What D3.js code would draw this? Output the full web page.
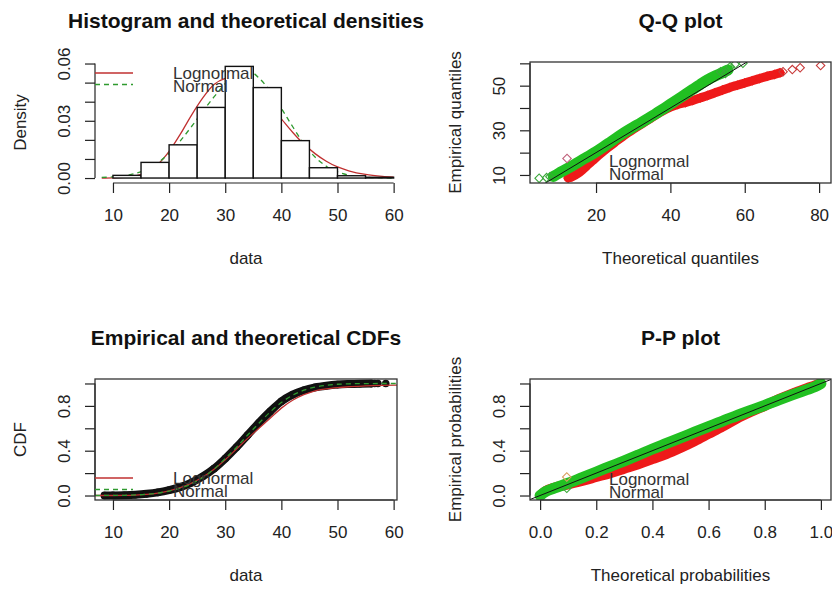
<!DOCTYPE html>
<html>
<head>
<meta charset="utf-8">
<script src="https://cdn.jsdelivr.net/npm/d3@7"></script>
<style>
body { margin: 0; background: #fff; }
svg { font-family: "Liberation Sans", Arial, sans-serif; }
.axis text { font-family: "Liberation Sans", Arial, sans-serif; font-size: 17px; fill: #222; }
.axis line { stroke: #222; stroke-width: 1.2; }
.lab { font-size: 17px; fill: #222; }
.title { font-size: 21px; font-weight: bold; fill: #111; }
.leg { font-size: 17px; fill: #333; }
</style>
</head>
<body>
<svg id="chart" width="832" height="590"></svg>
<script>
// ---- histogram + densities ----
const histBreaks = [10, 15, 20, 25, 30, 35, 40, 45, 50, 55, 60];
const histDensity = [0.0014, 0.0082, 0.0174, 0.037, 0.0585, 0.0474, 0.0196, 0.0054, 0.0012, 0.0004];
const densX = [8, 10, 12, 14, 16, 18, 20, 22, 24, 26, 28, 30, 31, 32, 33, 34, 36, 38, 40, 42, 44, 46, 48, 50, 52, 55, 58, 60];
const lnormDens = [0, 0.0001, 0.0004, 0.0012, 0.003, 0.0072, 0.014, 0.023, 0.033, 0.042, 0.049, 0.0522, 0.0528, 0.0525, 0.0515, 0.0497, 0.0448, 0.038, 0.031, 0.024, 0.0178, 0.0128, 0.0088, 0.0058, 0.0038, 0.0019, 0.0009, 0.0005];
const normDens = [0.0003, 0.0006, 0.0012, 0.0024, 0.0045, 0.008, 0.013, 0.0195, 0.027, 0.035, 0.0425, 0.0495, 0.0525, 0.0548, 0.0562, 0.0563, 0.0525, 0.0455, 0.0365, 0.027, 0.018, 0.011, 0.0062, 0.0032, 0.0015, 0.0005, 0.0001, 0];

// ---- Q-Q plot ----
const qqNormX = [8.5, 10, 12, 14, 16, 18, 20, 22, 24, 26, 28, 30, 32, 34, 36, 38, 40, 42, 44, 46, 48, 50, 52, 54, 55.5];
const qqNormY = [9.3, 10.8, 12.6, 14.5, 16.5, 18.4, 20.4, 22.6, 24.9, 27.2, 29.4, 31.4, 33.3, 35.3, 37.4, 39.5, 41.7, 43.9, 46.1, 48.3, 50.5, 52.6, 54.3, 55.8, 57];
const qqNormTailX = [4.7, 6.7, 7.6, 53.5, 54.8, 56.1, 57.4, 59.5];
const qqNormTailY = [8.5, 8.8, 9.2, 56.2, 55.5, 58.5, 59.6, 60];
const qqLnormX = [12.5, 13.5, 15, 16.5, 18, 19.5, 21, 23, 25, 28, 31, 34, 37, 40, 42, 44, 46, 48, 50, 52, 54, 56, 58, 60, 62, 64, 66, 68, 69.5];
const qqLnormY = [8.6, 9.2, 10.5, 12.5, 14.8, 17, 19.2, 22, 24.5, 28.2, 31.5, 34.6, 37.8, 40.4, 41.6, 42.4, 43.4, 44.5, 45.6, 46.8, 48, 49.2, 50.2, 51.2, 52.2, 53.2, 54.2, 55, 55.8];
const qqLnormTailX = [70.3, 72.8, 74.9, 80.4];
const qqLnormTailY = [56.2, 57.2, 58, 59];
const qqOddX = [12.2], qqOddY = [17.4];

// ---- CDFs ----
const cdfX = [8.5, 10, 12, 14, 16, 18, 20, 22, 24, 26, 28, 30, 32, 34, 36, 38, 40, 42, 44, 46, 48, 50, 52, 54, 56];
const empCdf = [0, 0.001, 0.003, 0.007, 0.015, 0.028, 0.048, 0.075, 0.115, 0.17, 0.24, 0.33, 0.43, 0.54, 0.65, 0.75, 0.84, 0.9, 0.94, 0.965, 0.98, 0.99, 0.995, 0.998, 0.999];
const cdfTailX = [56.6, 57.2, 58.6];
const cdfTailY = [1, 1, 1];
const cdfLineX = [6.8, 10, 12, 14, 16, 18, 20, 22, 24, 26, 28, 30, 32, 34, 36, 38, 40, 42, 44, 46, 48, 50, 52, 55, 58, 60.6];
const lnormCdf = [0, 0.0003, 0.0012, 0.004, 0.01, 0.022, 0.042, 0.07, 0.11, 0.165, 0.235, 0.32, 0.415, 0.51, 0.6, 0.69, 0.78, 0.85, 0.9, 0.935, 0.952, 0.963, 0.971, 0.978, 0.983, 0.986];
const normCdf = [0, 0.001, 0.002, 0.005, 0.011, 0.022, 0.04, 0.065, 0.105, 0.16, 0.235, 0.33, 0.43, 0.54, 0.645, 0.745, 0.83, 0.895, 0.94, 0.968, 0.984, 0.993, 0.997, 0.999, 1, 1];

// ---- P-P plot ----
const ppX = [0, 0.02, 0.05, 0.1, 0.15, 0.2, 0.25, 0.3, 0.35, 0.4, 0.45, 0.5, 0.55, 0.6, 0.65, 0.7, 0.75, 0.8, 0.85, 0.9, 0.95, 0.98, 1];
const ppNormY = [0, 0.035, 0.065, 0.11, 0.16, 0.21, 0.26, 0.31, 0.362, 0.415, 0.465, 0.515, 0.565, 0.615, 0.665, 0.712, 0.76, 0.805, 0.853, 0.9, 0.945, 0.972, 1];
const ppLnormY = [0, 0.04, 0.07, 0.1, 0.13, 0.165, 0.2, 0.24, 0.28, 0.325, 0.37, 0.425, 0.485, 0.55, 0.615, 0.685, 0.745, 0.8, 0.86, 0.912, 0.958, 0.985, 1];
const ppOddX = [0.095], ppOddY = [0.165];
const ppNormTailX = [0.095], ppNormTailY = [0.065];

const legendNames = ['Lognormal', 'Normal'];
const RED = '#ee1a1a', GREEN = '#22c022';
const LINE_RED = '#c03030', LINE_GREEN = '#2f9a2f';

const svg = d3.select('#chart');
const zip = (xs, ys) => xs.map((x, i) => [x, ys[i]]);

function panel(o) {
    const p = {};
    p.x = d3.scaleLinear().domain(o.xDomain).range([o.left, o.right]);
    p.y = d3.scaleLinear().domain(o.yDomain).range([o.bottom, o.top]);
    p.g = svg.append('g');
    svg.append('clipPath').attr('id', 'clip-' + o.name)
        .append('rect').attr('x', o.left).attr('y', o.top)
        .attr('width', o.right - o.left).attr('height', o.bottom - o.top);
    p.plot = p.g.append('g').attr('clip-path', `url(#clip-${o.name})`);

    // x axis
    const xg = p.g.append('g').attr('class', 'axis').attr('transform', `translate(0,${o.bottom})`)
        .call(d3.axisBottom(p.x).tickValues(o.xTicks).tickSize(10).tickFormat(o.xFormat));
    xg.select('.domain').remove();
    xg.append('line').attr('x1', p.x(o.xTicks[0])).attr('x2', p.x(o.xTicks[o.xTicks.length - 1]));
    xg.selectAll('text').attr('y', 38).attr('dy', null);

    // y axis, labels rotated like R
    const yg = p.g.append('g').attr('class', 'axis').attr('transform', `translate(${o.left},0)`)
        .call(d3.axisLeft(p.y).tickValues(o.yTicks).tickSize(10)
            .tickFormat((d, i) => i % o.yEvery === 0 ? o.yFormat(d) : ''));
    yg.select('.domain').remove();
    yg.append('line').attr('y1', p.y(o.yTicks[0])).attr('y2', p.y(o.yTicks[o.yTicks.length - 1]));
    yg.selectAll('text').attr('x', 0).attr('dy', null)
        .attr('transform', 'translate(-25,0) rotate(-90)').attr('text-anchor', 'middle');

    if (o.box) {
        p.g.append('rect').attr('x', o.left).attr('y', o.top)
            .attr('width', o.right - o.left).attr('height', o.bottom - o.top)
            .attr('fill', 'none').attr('stroke', '#333').attr('stroke-width', 1.3);
    }
    const cx = (o.left + o.right) / 2;
    p.g.append('text').attr('class', 'title').attr('x', cx).attr('y', o.top - 34)
        .attr('text-anchor', 'middle').text(o.title);
    p.g.append('text').attr('class', 'lab').attr('x', cx).attr('y', o.bottom + 81)
        .attr('text-anchor', 'middle').text(o.xLabel);
    p.g.append('text').attr('class', 'lab')
        .attr('transform', `translate(${o.left - 69},${(o.top + o.bottom) / 2}) rotate(-90)`)
        .attr('text-anchor', 'middle').text(o.yLabel);
    return p;
}

function legend(p, x0, y0, withLines) {
    if (withLines) {
        p.g.append('line').attr('x1', x0).attr('x2', x0 + 38).attr('y1', y0).attr('y2', y0)
            .attr('stroke', LINE_RED).attr('stroke-width', 1.3);
        p.g.append('line').attr('x1', x0).attr('x2', x0 + 38).attr('y1', y0 + 11.5).attr('y2', y0 + 11.5)
            .attr('stroke', LINE_GREEN).attr('stroke-width', 1.3).attr('stroke-dasharray', '5,4');
    }
    legendNames.forEach((n, i) => {
        p.g.append('text').attr('class', 'leg').attr('x', x0 + 78).attr('y', y0 + 6 + i * 12.5).text(n);
    });
}

const diamond = d3.symbol().type(d3.symbolSquare).size(36);
function band(p, pts, color, width) {
    p.plot.append('path').datum(pts)
        .attr('d', d3.line().x(d => p.x(d[0])).y(d => p.y(d[1])).curve(d3.curveMonotoneX))
        .attr('fill', 'none').attr('stroke', color).attr('stroke-width', width)
        .attr('stroke-linecap', 'round').attr('stroke-linejoin', 'round');
}
function diamonds(p, pts, color) {
    p.plot.append('g').selectAll('path').data(pts).join('path')
        .attr('d', diamond)
        .attr('transform', d => `translate(${p.x(d[0])},${p.y(d[1])}) rotate(45)`)
        .attr('fill', 'none').attr('stroke', color).attr('stroke-width', 1.1);
}
function curve(p, pts, color, dash) {
    p.plot.append('path').datum(pts)
        .attr('d', d3.line().x(d => p.x(d[0])).y(d => p.y(d[1])).curve(d3.curveMonotoneX))
        .attr('fill', 'none').attr('stroke', color).attr('stroke-width', 1.3)
        .attr('stroke-dasharray', dash || null);
}

const fmt1 = d3.format('.1f');

// ---------- panel 1: histogram ----------
const h = panel({
    name: 'hist', left: 95, right: 397, top: 62, bottom: 183,
    xDomain: [6.8, 60.6], yDomain: [-0.0026, 0.0608],
    xTicks: [10, 20, 30, 40, 50, 60], xFormat: d3.format('d'),
    yTicks: [0, 0.01, 0.02, 0.03, 0.04, 0.05, 0.06], yEvery: 3, yFormat: d3.format('.2f'),
    title: 'Histogram and theoretical densities', xLabel: 'data', yLabel: 'Density', box: false
});
h.g.append('g').selectAll('rect').data(histDensity).join('rect')
    .attr('x', (d, i) => h.x(histBreaks[i]))
    .attr('width', (d, i) => h.x(histBreaks[i + 1]) - h.x(histBreaks[i]))
    .attr('y', d => h.y(d))
    .attr('height', d => h.y(0) - h.y(d))
    .attr('fill', '#fff').attr('stroke', '#111').attr('stroke-width', 1.4);
curve(h, zip(densX, lnormDens), LINE_RED);
curve(h, zip(densX, normDens), LINE_GREEN, '5,4');
legend(h, 95, 73, true);

// ---------- panel 2: Q-Q plot ----------
const q = panel({
    name: 'qq', left: 530, right: 831, top: 62, bottom: 183,
    xDomain: [2.24, 83.2], yDomain: [6.4, 60.6],
    xTicks: [20, 40, 60, 80], xFormat: d3.format('d'),
    yTicks: [10, 20, 30, 40, 50, 60], yEvery: 2, yFormat: d3.format('d'),
    title: 'Q-Q plot', xLabel: 'Theoretical quantiles', yLabel: 'Empirical quantiles', box: true
});
band(q, zip(qqLnormX, qqLnormY), RED, 9);
diamonds(q, zip(qqLnormX, qqLnormY), RED);
diamonds(q, zip(qqLnormTailX, qqLnormTailY), '#c83a3a');
band(q, zip(qqNormX, qqNormY), GREEN, 11);
diamonds(q, zip(qqNormX, qqNormY), GREEN);
diamonds(q, zip(qqNormTailX, qqNormTailY), '#3aa83a');
diamonds(q, zip(qqOddX, qqOddY), '#c0607a');
q.plot.append('line').attr('x1', q.x(0)).attr('y1', q.y(0)).attr('x2', q.x(90)).attr('y2', q.y(90))
    .attr('stroke', '#111').attr('stroke-width', 1);
legend(q, 531, 161, false);

// ---------- panel 3: CDFs ----------
const c = panel({
    name: 'cdf', left: 95, right: 397, top: 379, bottom: 500,
    xDomain: [6.8, 60.6], yDomain: [-0.04, 1.04],
    xTicks: [10, 20, 30, 40, 50, 60], xFormat: d3.format('d'),
    yTicks: [0, 0.2, 0.4, 0.6, 0.8, 1], yEvery: 2, yFormat: fmt1,
    title: 'Empirical and theoretical CDFs', xLabel: 'data', yLabel: 'CDF', box: true
});
band(c, zip(cdfX, empCdf), '#111', 8);
c.plot.append('g').selectAll('circle').data(zip(cdfX, empCdf).concat(zip(cdfTailX, cdfTailY))).join('circle')
    .attr('cx', d => c.x(d[0])).attr('cy', d => c.y(d[1])).attr('r', 3.8).attr('fill', '#111');
curve(c, zip(cdfLineX, lnormCdf), LINE_RED);
curve(c, zip(cdfLineX, normCdf), LINE_GREEN, '5,4');
legend(c, 95, 478, true);

// ---------- panel 4: P-P plot ----------
const pp = panel({
    name: 'pp', left: 530, right: 831, top: 379, bottom: 500,
    xDomain: [-0.036, 1.036], yDomain: [-0.04, 1.04],
    xTicks: [0, 0.2, 0.4, 0.6, 0.8, 1], xFormat: fmt1,
    yTicks: [0, 0.2, 0.4, 0.6, 0.8, 1], yEvery: 2, yFormat: fmt1,
    title: 'P-P plot', xLabel: 'Theoretical probabilities', yLabel: 'Empirical probabilities', box: true
});
band(pp, zip(ppX, ppLnormY), RED, 10);
diamonds(pp, zip(ppX, ppLnormY), RED);
band(pp, zip(ppX, ppNormY), GREEN, 11);
diamonds(pp, zip(ppX, ppNormY), GREEN);
diamonds(pp, zip(ppNormTailX, ppNormTailY), '#3aa83a');
diamonds(pp, zip(ppOddX, ppOddY), '#d8a060');
pp.plot.append('line').attr('x1', pp.x(-0.1)).attr('y1', pp.y(-0.1)).attr('x2', pp.x(1.1)).attr('y2', pp.y(1.1))
    .attr('stroke', '#111').attr('stroke-width', 1);
legend(pp, 531, 479, false);
</script>
</body>
</html>
